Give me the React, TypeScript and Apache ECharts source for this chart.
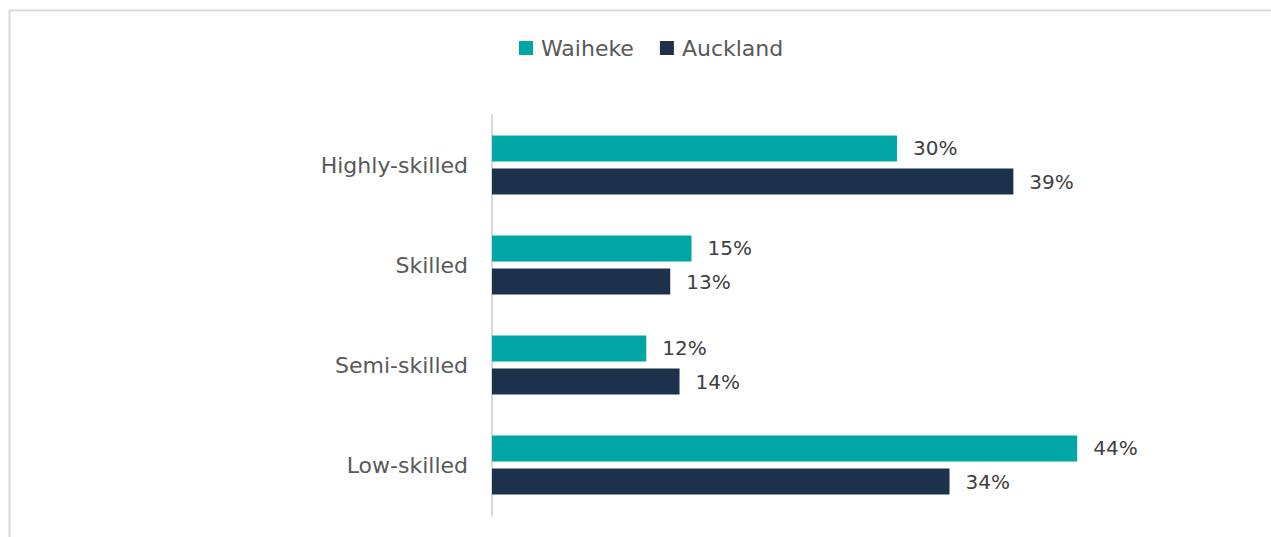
import React, { useEffect, useRef } from "react";
import * as echarts from "echarts";

const categories = ["Highly-skilled", "Skilled", "Semi-skilled", "Low-skilled"];
const waiheke = [30.45, 15.0, 11.6, 44.0];
const auckland = [39.2, 13.4, 14.1, 34.4];
const seriesNames = ["Waiheke", "Auckland"];
const colors = ["#00A6A6", "#1C314C"];

export default function App() {
  const ref = useRef<HTMLDivElement>(null);
  useEffect(() => {
    document.body.style.margin = "0";
    const chart = echarts.init(ref.current!, null, { renderer: "svg" });
    const font = "'DejaVu Sans', sans-serif";
    const labelFmt = (p: any) => Math.round(p.value) + "%";
    chart.setOption({
      animation: false,
      textStyle: { fontFamily: font },
      graphic: [
        {
          type: "rect",
          shape: { x: 9.5, y: 10.5, width: 1300, height: 600 },
          style: { fill: "none", stroke: "#d9d9d9", lineWidth: 2 },
          silent: true,
        },
      ],
      legend: {
        top: 37,
        left: 519,
        padding: 0,
        itemWidth: 14,
        itemHeight: 14,
        itemGap: 26,
        icon: "rect",
        textStyle: { fontSize: 22, color: "#595959", fontFamily: font, padding: [0, 0, 0, 3] },
        data: seriesNames,
      },
      grid: { left: 492, right: 114, top: 115, bottom: 22, containLabel: false },
      xAxis: {
        type: "value",
        min: 0,
        max: 50,
        show: false,
      },
      yAxis: {
        type: "category",
        inverse: true,
        data: categories,
        axisLine: { show: true, lineStyle: { color: "#d9d9d9", width: 2 } },
        axisTick: { show: false },
        axisLabel: { fontSize: 22, color: "#595959", margin: 24, fontFamily: font },
      },
      series: [
        {
          name: seriesNames[0],
          type: "bar",
          data: waiheke,
          barWidth: 26,
          barGap: "27%",
          itemStyle: { color: colors[0] },
          label: { show: true, position: "right", distance: 16, formatter: labelFmt, fontSize: 20, color: "#404040", fontFamily: font },
        },
        {
          name: seriesNames[1],
          type: "bar",
          data: auckland,
          barWidth: 26,
          itemStyle: { color: colors[1] },
          label: { show: true, position: "right", distance: 16, formatter: labelFmt, fontSize: 20, color: "#404040", fontFamily: font },
        },
      ],
    });
    return () => chart.dispose();
  }, []);
  return <div ref={ref} style={{ width: 1271, height: 537 }} />;
}
